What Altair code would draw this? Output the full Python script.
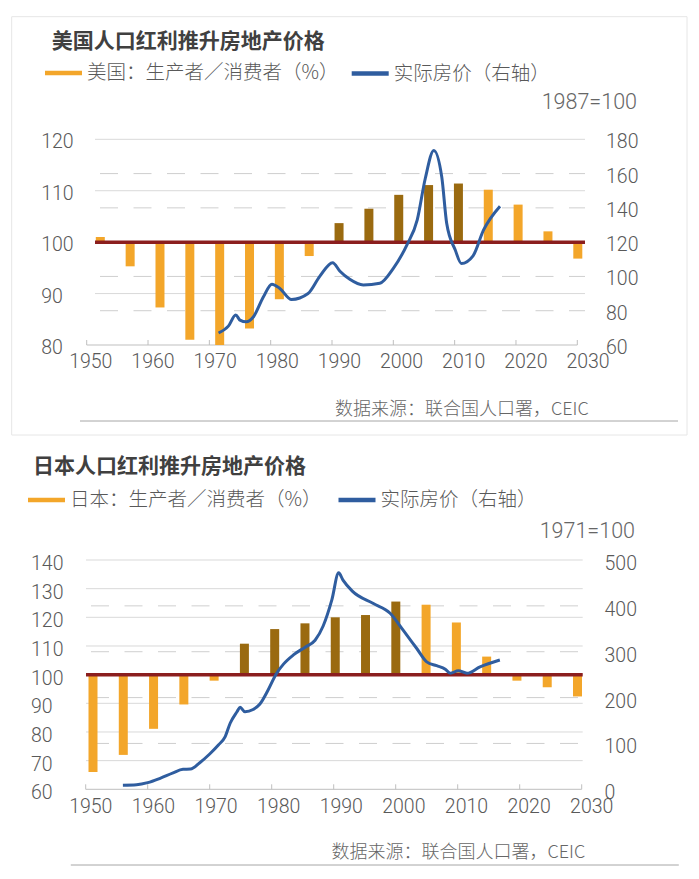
import altair as alt
import pandas as pd

# ---------------- data ----------------
bar_years = [1950, 1955, 1960, 1965, 1970, 1975, 1980, 1985, 1990,
             1995, 2000, 2005, 2010, 2015, 2020, 2025, 2030]

us_ratio = [101.0, 95.3, 87.3, 81.0, 80.0, 83.2, 88.9, 97.3, 103.7,
            106.5, 109.2, 111.1, 111.4, 110.2, 107.3, 102.1, 96.8]
us_phase = ["light"] * 8 + ["dark"] * 5 + ["light"] * 4

us_price_year = [1971.5, 1973.1, 1974.3, 1975.0, 1976.0, 1977.2, 1978.8, 1980.2,
                 1981.5, 1983.4, 1986.1, 1988.0, 1990.1, 1991.3, 1992.9, 1995.1,
                 1997.8, 2000.0, 2002.2, 2003.9, 2005.2, 2006.6, 2007.9, 2008.7,
                 2010.1, 2011.1, 2013.0, 2014.7, 2017.4]
us_price = [67, 71, 77.5, 74.5, 73.5, 76.5, 88, 95.5,
            93, 86.5, 90, 100, 108, 103, 98.3, 95,
            96, 104.7, 118.3, 133, 157, 173.5, 158, 131,
            115.4, 107.5, 112, 127, 141]

jp_ratio = [66.0, 72.0, 81.1, 89.6, 97.9, 110.8, 115.9, 117.9, 120.0,
            120.8, 125.5, 124.4, 118.2, 106.3, 97.9, 95.6, 92.4]
jp_phase = ["light"] * 5 + ["dark"] * 6 + ["light"] * 6

jp_price_year = [1956.0, 1958.2, 1960.0, 1962.0, 1964.1, 1965.7, 1966.9, 1968.4,
                 1970.0, 1971.4, 1972.5, 1973.3, 1974.4, 1974.9, 1975.7, 1977.0,
                 1978.1, 1979.4, 1980.7, 1981.9, 1983.5, 1985.4, 1987.0, 1988.3,
                 1989.7, 1990.8, 1991.5, 1993.0, 1996.4, 1999.1, 2001.2, 2003.4,
                 2005.0, 2006.6, 2008.0, 2008.8, 2010.1, 2011.5, 2013.6, 2016.8]
jp_price = [9, 10, 14.5, 24, 36, 43.5, 44, 58,
            77, 96.5, 115, 144, 169, 179, 169, 174,
            186, 216, 251, 273, 293, 310, 325, 356,
            413, 472, 456, 432, 405, 384, 347, 307,
            278, 269.5, 262, 253, 258.6, 253, 267, 282]

x_ticks = [1950, 1960, 1970, 1980, 1990, 2000, 2010, 2020, 2030]
us_left_ticks = [80, 90, 100, 110, 120]
us_right_ticks = [60, 80, 100, 120, 140, 160, 180]
us_dashed = [80, 100, 140, 160]
jp_left_ticks = [60, 70, 80, 90, 100, 110, 120, 130, 140]
jp_right_ticks = [0, 100, 200, 300, 400, 500]
jp_dashed = [100, 200, 300, 400]

# ---------------- style ----------------
ORANGE = "#F3A62A"
BROWN = "#9A6A10"
BLUE = "#2F5D9F"
RED = "#8B1E1E"
GRID = "#D9D9D9"
DASH = "#CFCFCF"
AXIS = "#BFBFBF"
TXT = "#595959"
CJK = "Noto Sans CJK SC"
NUM = "Roboto, Liberation Sans, sans-serif"
NUM_SIZE = 19.5
NUM_WEIGHT = 300
M = 8  # page margin


def P(v):
    return v - M


def one():
    return pd.DataFrame({"k": [0]})


def panel(cfg, ratio, phase, pyear, price, lticks, rticks, dashed):
    xq = alt.Scale(domain=[1950, 2030], range=[P(cfg["x0"]), P(cfg["x1"])], nice=False, zero=False)
    xl = alt.Scale(domain=[1950, 2030], range=[P(cfg["l0"]), P(cfg["l1"])], nice=False, zero=False)
    xb = alt.Scale(type="point", domain=bar_years, range=[P(cfg["b0"]), P(cfg["b1"])], padding=0)
    yl = alt.Scale(domain=[lticks[0], lticks[-1]], range=[P(cfg["ybot"]), P(cfg["ytop"])], nice=False, zero=False)
    yr = alt.Scale(domain=[rticks[0], rticks[-1]], range=[P(cfg["ybot"]), P(cfg["ytop"])], nice=False, zero=False)

    layers = []
    if cfg.get("border"):
        bx0, by0, bx1, by1 = cfg["border"]
        layers.append(alt.Chart(one()).mark_rect(fillOpacity=0, stroke="#E6E6E6", strokeWidth=1).encode(
            x=alt.value(P(bx0)), x2=alt.value(P(bx1)), y=alt.value(P(by0)), y2=alt.value(P(by1))))

    # solid gridlines (left axis)
    layers.append(alt.Chart(pd.DataFrame({"v": lticks[1:]})).mark_rule(color=GRID, strokeWidth=1).encode(
        y=alt.Y("v:Q", scale=yl, axis=None), x=alt.value(P(cfg["g0"])), x2=alt.value(P(cfg["g1"]))))
    # dashed gridlines (right axis)
    layers.append(alt.Chart(pd.DataFrame({"v": dashed})).mark_rule(
        color=DASH, strokeWidth=1, strokeDash=[18, 15.5], strokeDashOffset=cfg["dashoff"]).encode(
        y=alt.Y("v:Q", scale=yr, axis=None), x=alt.value(P(cfg["g0"])), x2=alt.value(P(cfg["g1"]))))
    # x axis line
    layers.append(alt.Chart(pd.DataFrame({"a": [1950], "b": [2030], "v": [lticks[0]]})).mark_rule(
        color=AXIS, strokeWidth=1).encode(
        x=alt.X("a:Q", scale=xq, axis=None), x2="b:Q", y=alt.Y("v:Q", scale=yl, axis=None)))
    # x ticks (pointing up)
    layers.append(alt.Chart(pd.DataFrame({"t": x_ticks})).mark_rule(color=AXIS, strokeWidth=1).encode(
        x=alt.X("t:Q", scale=xq, axis=None), y=alt.value(P(cfg["ybot"]) - 5), y2=alt.value(P(cfg["ybot"]))))
    # bars
    bdf = pd.DataFrame({"year": bar_years, "ratio": ratio, "phase": phase, "base": [100] * len(bar_years)})
    layers.append(alt.Chart(bdf).mark_bar(size=9).encode(
        x=alt.X("year:O", scale=xb, axis=None),
        y=alt.Y("ratio:Q", scale=yl, axis=None), y2="base:Q",
        color=alt.Color("phase:N", scale=alt.Scale(domain=["light", "dark"], range=[ORANGE, BROWN]), legend=None)))
    # red 100 line
    layers.append(alt.Chart(pd.DataFrame({"v": [100]})).mark_rule(color=RED, strokeWidth=3.5).encode(
        y=alt.Y("v:Q", scale=yl, axis=None), x=alt.value(P(cfg["g0"])), x2=alt.value(P(cfg["g1"]))))
    # house price line
    ldf = pd.DataFrame({"year": pyear, "price": price})
    layers.append(alt.Chart(ldf).mark_line(color=BLUE, strokeWidth=3, interpolate="monotone").encode(
        x=alt.X("year:Q", scale=xq, axis=None), y=alt.Y("price:Q", scale=yr, axis=None)))
    # x labels
    layers.append(alt.Chart(pd.DataFrame({"t": x_ticks, "s": [str(t) for t in x_ticks]})).mark_text(
        font=NUM, fontSize=NUM_SIZE, fontWeight=NUM_WEIGHT, color=TXT, baseline="middle", align="center").encode(
        x=alt.X("t:Q", scale=xl, axis=None), y=alt.value(P(cfg["xly"])), text="s:N"))
    # left labels
    layers.append(alt.Chart(pd.DataFrame({"v": lticks, "s": [str(v) for v in lticks]})).mark_text(
        font=NUM, fontSize=NUM_SIZE, fontWeight=NUM_WEIGHT, color=TXT, baseline="middle", align="left",
        dy=cfg["dy"]).encode(
        x=alt.value(P(cfg["llx"])), y=alt.Y("v:Q", scale=yl, axis=None), text="s:N"))
    # right labels
    layers.append(alt.Chart(pd.DataFrame({"v": rticks, "s": [str(v) for v in rticks]})).mark_text(
        font=NUM, fontSize=NUM_SIZE, fontWeight=NUM_WEIGHT, color=TXT, baseline="middle", align="left",
        dy=cfg["dy"]).encode(
        x=alt.value(P(cfg["rlx"])), y=alt.Y("v:Q", scale=yr, axis=None), text="s:N"))
    # title
    layers.append(alt.Chart(one()).mark_text(
        text=cfg["title"], font=CJK, fontSize=21, fontWeight="bold", color="#404040",
        align="left", baseline="middle").encode(x=alt.value(P(cfg["tx"])), y=alt.value(P(cfg["ty"]))))
    # legend
    lx, ly = cfg["leg1"]
    layers.append(alt.Chart(one()).mark_rule(color=ORANGE, strokeWidth=4.5).encode(
        x=alt.value(P(lx)), x2=alt.value(P(lx + 37)), y=alt.value(P(ly))))
    layers.append(alt.Chart(one()).mark_text(
        text=cfg["leg1text"], font=CJK, fontSize=19.5, fontWeight=300, color=TXT,
        align="left", baseline="middle").encode(x=alt.value(P(lx + 42)), y=alt.value(P(ly))))
    lx2, ly2 = cfg["leg2"]
    layers.append(alt.Chart(one()).mark_rule(color=BLUE, strokeWidth=4.5).encode(
        x=alt.value(P(lx2)), x2=alt.value(P(lx2 + 37)), y=alt.value(P(ly2))))
    layers.append(alt.Chart(one()).mark_text(
        text="实际房价（右轴）", font=CJK, fontSize=19.5, fontWeight=300, color=TXT,
        align="left", baseline="middle").encode(x=alt.value(P(lx2 + 42)), y=alt.value(P(ly2))))
    # base-year note
    ux, uy = cfg["unit"]
    layers.append(alt.Chart(one()).mark_text(
        text=cfg["unittext"], font=NUM, fontSize=21.5, fontWeight=NUM_WEIGHT, color="#666666",
        align="right", baseline="middle").encode(x=alt.value(P(ux)), y=alt.value(P(uy))))
    # source
    sx, sy = cfg["src"]
    layers.append(alt.Chart(one()).mark_text(
        text="数据来源：联合国人口署，CEIC", font=CJK, fontSize=18, fontWeight=300, color="#666666",
        align="left", baseline="middle").encode(x=alt.value(P(sx)), y=alt.value(P(sy))))
    s0, s1, sly = cfg["srcline"]
    layers.append(alt.Chart(one()).mark_rule(color="#A6A6A6", strokeWidth=1).encode(
        x=alt.value(P(s0)), x2=alt.value(P(s1)), y=alt.value(P(sly))))
    return layers


us_cfg = dict(x0=86.7, x1=577.3, l0=90.8, l1=588.0, b0=100.3, b1=577.8,
              g0=95.0, g1=585.0, ytop=139.3, ybot=345.0, xly=361.7,
              llx=41.2, rlx=606.0, dy=3, dashoff=28.5,
              border=(11.7, 16.7, 687.0, 435.0),
              title="美国人口红利推升房地产价格", tx=51.7, ty=41.5,
              leg1=(45.0, 73.0), leg1text="美国：生产者／消费者（%）", leg2=(351.7, 73.5),
              unit=(637.0, 103.3), unittext="1987=100",
              src=(335.0, 410.0), srcline=(80.0, 678.0, 421.0))

jp_cfg = dict(x0=85.7, x1=581.7, l0=90.8, l1=591.7, b0=93.0, b1=577.5,
              g0=86.0, g1=582.7, ytop=560.0, ybot=789.3, xly=806.7,
              llx=31.0, rlx=604.5, dy=4, dashoff=28.5,
              title="日本人口红利推升房地产价格", tx=33.0, ty=466.7,
              leg1=(28.0, 500.0), leg1text="日本：生产者／消费者（%）", leg2=(338.5, 500.0),
              unit=(635.0, 531.7), unittext="1971=100",
              src=(331.5, 853.0), srcline=(70.8, 678.8, 865.0))

layers = (panel(us_cfg, us_ratio, us_phase, us_price_year, us_price,
                us_left_ticks, us_right_ticks, us_dashed)
          + panel(jp_cfg, jp_ratio, jp_phase, jp_price_year, jp_price,
                  jp_left_ticks, jp_right_ticks, jp_dashed))

chart = alt.layer(*layers).resolve_scale(
    x="independent", y="independent", color="independent"
).properties(
    width=683, height=863, padding=0,
    autosize=alt.AutoSizeParams(type="none"), background="white"
).configure_view(stroke=None)

chart.save("out.html", embed_options={"renderer": "svg", "actions": False})
